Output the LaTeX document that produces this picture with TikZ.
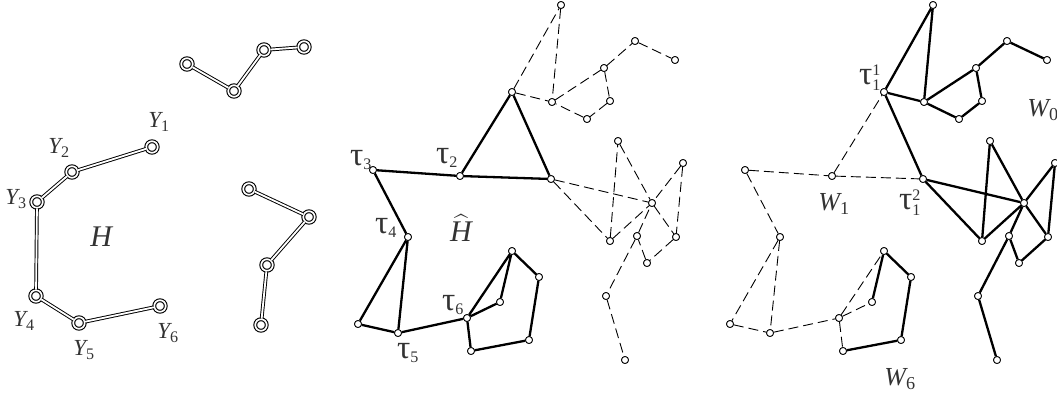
\documentclass[tikz,border=0pt]{standalone}
\usepackage{amsmath}
\usepackage{fontspec}
\setmainfont{Liberation Serif}
\definecolor{txt}{HTML}{333333}
\newcommand{\tlab}[1]{$\text{\fontsize{33}{33}\selectfont τ}_{\text{#1}}$}
\newcommand{\tlabb}[2]{$\text{\fontsize{33}{33}\selectfont τ}_{\text{#1}}^{\text{#2}}$}
\newcommand{\ilab}[2]{$\text{\itshape #1}_{\text{#2}}$}
\newcommand{\placenodes}{%
  \node[vtx] (p3) at (373,170) {};
  \node[vtx] (p2) at (460,176) {};
  \node[vtx] (pt) at (512,92) {};
  \node[vtx] (pr) at (551,179) {};
  \node[vtx] (p4) at (408,237) {};
  \node[vtx] (plb) at (358,324) {};
  \node[vtx] (p5) at (398,333) {};
  \node[vtx] (p6) at (467,318) {};
  \node[vtx] (pin) at (500,302) {};
  \node[vtx] (ptop) at (512,251) {};
  \node[vtx] (pri) at (539,277) {};
  \node[vtx] (pbr) at (529,340) {};
  \node[vtx] (pbl) at (471,351) {};
  \node[vtx] (qa) at (561,5) {};
  \node[vtx] (qb) at (552,102) {};
  \node[vtx] (qc) at (604,68) {};
  \node[vtx] (qd) at (635,41) {};
  \node[vtx] (qe) at (675,60) {};
  \node[vtx] (qf) at (610,101) {};
  \node[vtx] (qg) at (587,119) {};
  \node[vtx] (qh) at (618,141) {};
  \node[vtx] (qi) at (683,163) {};
  \node[vtx] (qj) at (652,203) {};
  \node[vtx] (qk) at (610,241) {};
  \node[vtx] (ql) at (637,236) {};
  \node[vtx] (qm) at (676,237) {};
  \node[vtx] (qn) at (647,263) {};
  \node[vtx] (qo) at (606,296) {};
  \node[vtx] (qp) at (625,360) {};
}
\begin{document}
\begin{tikzpicture}[x=1pt,y=-1pt,
  ring/.style={circle,draw=black,fill=white,line width=1.1pt,double=white,double distance=1.7pt,minimum size=11.5pt,inner sep=0pt},
  vtx/.style={circle,draw=black,fill=white,line width=0.8pt,minimum size=7pt,inner sep=0pt},
  dedge/.style={draw=black,line width=0.95pt,double=white,double distance=1.8pt},
  sedge/.style={draw=black,line width=2.3pt},
  hedge/.style={draw=black,line width=0.9pt,dash pattern=on 10pt off 5pt},
  lab/.style={text=txt,inner sep=0pt,font=\fontsize{23}{23}\selectfont}]
\useasboundingbox (0,0) rectangle (1057,399);
% ---------- panel 1 ----------
\node[ring] (Y1) at (152,147) {};
\node[ring] (Y2) at (72,172) {};
\node[ring] (Y3) at (37,202) {};
\node[ring] (Y4) at (36,296) {};
\node[ring] (Y5) at (79,323) {};
\node[ring] (Y6) at (160,306) {};
\node[ring] (A1) at (187,64) {};
\node[ring] (A2) at (234,91) {};
\node[ring] (A3) at (264,50) {};
\node[ring] (A4) at (304,47) {};
\node[ring] (B1) at (249,189) {};
\node[ring] (B2) at (309,217) {};
\node[ring] (B3) at (267,265) {};
\node[ring] (B4) at (261,325) {};
\path[dedge] (Y1)--(Y2) (Y2)--(Y3) (Y3)--(Y4) (Y4)--(Y5) (Y5)--(Y6)
  (A1)--(A2) (A2)--(A3) (A3)--(A4) (B1)--(B2) (B2)--(B3) (B3)--(B4);
\node[lab] (lY1) at (159,122) {\ilab{Y}{1}};
\node[lab] (lY2) at (59,148) {\ilab{Y}{2}};
\node[lab] (lY3) at (16,199) {\ilab{Y}{3}};
\node[lab,font=\fontsize{30}{30}\selectfont] (lH) at (102,237) {\textit{H}};
\node[lab] (lY4) at (24,321) {\ilab{Y}{4}};
\node[lab] (lY5) at (84,350) {\ilab{Y}{5}};
\node[lab] (lY6) at (168,333) {\ilab{Y}{6}};
% ---------- panel 2 ----------
\begin{scope}[name prefix=m-]
\placenodes
\path[sedge] (p3)--(p2) (p2)--(pt) (pt)--(pr) (p2)--(pr) (p3)--(p4) (p4)--(plb)
  (p4)--(p5) (plb)--(p5) (p5)--(p6) (p6)--(ptop) (p6)--(pin) (pin)--(ptop)
  (ptop)--(pri) (pri)--(pbr) (pbr)--(pbl) (pbl)--(p6);
\path[hedge] (pt)--(qa) (qa)--(qb) (pt)--(qb) (qb)--(qc) (qc)--(qd) (qd)--(qe)
  (qc)--(qf) (qf)--(qg) (qg)--(qb) (pr)--(qj) (pr)--(qk) (qk)--(qh) (qh)--(qj)
  (qi)--(qj) (qj)--(qm) (qi)--(qm) (qm)--(qn) (qn)--(ql) (ql)--(qj) (qk)--(qj)
  (ql)--(qo) (qo)--(qp);
\placenodes
\end{scope}
\node[lab] (lt3) at (361,160) {\tlab{3}};
\node[lab] (lt2) at (447,158) {\tlab{2}};
\node[lab] (lt4) at (386,228) {\tlab{4}};
\node[lab,font=\fontsize{30}{30}\selectfont] (lHh) at (461,228) {$\widehat{\text{\itshape H}}$};
\node[lab] (lt6) at (453,305) {\tlab{6}};
\node[lab] (lt5) at (408,353) {\tlab{5}};
% ---------- panel 3 ----------
\begin{scope}[xshift=372pt,name prefix=r-]
\placenodes
\path[hedge] (p3)--(p2) (p2)--(pt) (p2)--(pr) (p3)--(p4) (p4)--(plb) (p4)--(p5)
  (plb)--(p5) (p5)--(p6) (p6)--(ptop) (p6)--(pin) (p6)--(pbl);
\path[sedge] (pin)--(ptop) (ptop)--(pri) (pri)--(pbr) (pbr)--(pbl)
  (pt)--(pr) (pt)--(qa) (qa)--(qb) (pt)--(qb) (qb)--(qc) (qc)--(qd) (qd)--(qe)
  (qc)--(qf) (qf)--(qg) (qg)--(qb) (pr)--(qj) (pr)--(qk) (qk)--(qh) (qh)--(qj)
  (qi)--(qj) (qj)--(qm) (qi)--(qm) (qm)--(qn) (qn)--(ql) (ql)--(qj) (qk)--(qj)
  (ql)--(qo) (qo)--(qp);
\placenodes
\end{scope}
\node[lab] (lt11) at (870,78) {\tlabb{1}{1}};
\node[lab,font=\fontsize{26}{26}\selectfont] (lW0) at (1043,110) {\ilab{W}{0}};
\node[lab,font=\fontsize{26}{26}\selectfont] (lW1) at (834,204) {\ilab{W}{1}};
\node[lab] (lt12) at (910,203) {\tlabb{1}{2}};
\node[lab,font=\fontsize{26}{26}\selectfont] (lW6) at (900,379) {\ilab{W}{6}};
\end{tikzpicture}
\end{document}
